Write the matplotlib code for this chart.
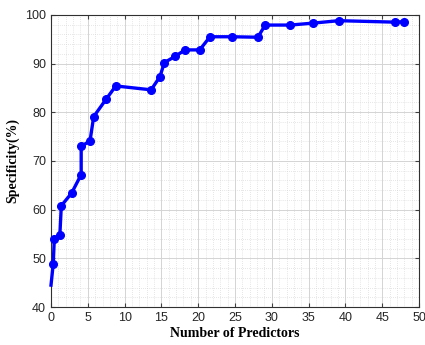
import numpy as np
import matplotlib.pyplot as plt
from matplotlib.ticker import MultipleLocator

# number of predictors vs specificity
predictors = [0.0, 0.3, 0.45, 1.2, 1.4, 2.8, 4.1, 4.1, 5.3, 5.8, 7.5, 8.8,
              13.6, 14.8, 15.4, 16.9, 18.2, 20.2, 21.6, 24.6, 28.1, 29.1,
              32.5, 35.6, 39.1, 46.7, 48.0]
specificity = [44.5, 48.8, 54.0, 54.7, 60.8, 63.4, 67.2, 73.0, 74.1, 79.1,
               82.7, 85.4, 84.6, 87.3, 90.2, 91.5, 92.8, 92.8, 95.5, 95.5,
               95.4, 97.9, 97.9, 98.3, 98.8, 98.5, 98.6]

xticks = np.arange(0, 51, 5)
yticks = np.arange(40, 101, 10)

fig = plt.figure(figsize=(4.25, 3.45), dpi=100)
ax = fig.add_axes([0.12, 0.11, 0.866, 0.847])

# first point sits on the axis with no marker
ax.plot(predictors, specificity, '-o', color=(0, 0, 1), lw=2.4, ms=5.5,
        markevery=list(range(1, len(predictors))), clip_on=False, zorder=3)

ax.set_xlim(0, 50)
ax.set_ylim(40, 100)
ax.set_xticks(xticks)
ax.set_yticks(yticks)
ax.xaxis.set_minor_locator(MultipleLocator(1))
ax.yaxis.set_minor_locator(MultipleLocator(2))
ax.grid(True, which='major', color='#d4d4d4', lw=0.7)
ax.grid(True, which='minor', color='#cfcfcf', lw=0.5, ls=(0, (1, 2)))
ax.set_axisbelow(True)

ax.tick_params(which='both', direction='in', top=True, right=True, colors='#404040',
               labelsize=9, labelcolor='#262626')
ax.tick_params(which='minor', length=0)
ax.tick_params(which='major', length=3)
for t in ax.get_xticklabels() + ax.get_yticklabels():
    t.set_family('Liberation Sans')
for s in ax.spines.values():
    s.set_color('#303030')
    s.set_linewidth(0.8)

ax.set_xlabel('Number of Predictors', family='Liberation Serif', fontweight='bold',
              fontsize=10, labelpad=2)
ax.set_ylabel('Specificity(%)', family='Liberation Serif', fontweight='bold',
              fontsize=10, labelpad=4)

fig.savefig('out.png', dpi=100)
